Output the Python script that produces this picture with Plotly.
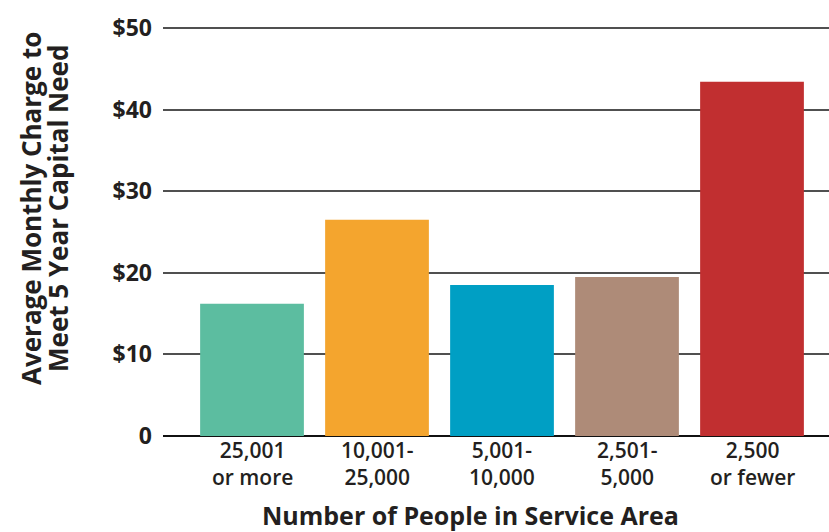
import plotly.graph_objects as go

label_line1 = ["25,001", "10,001-", "5,001-", "2,501-", "2,500"]
label_line2 = ["or more", "25,000", "10,000", "5,000", "or fewer"]
values = [16.2, 26.5, 18.5, 19.5, 43.4]
colors = ["#5CBDA0", "#F4A52E", "#009FC4", "#AE8B78", "#C12F30"]
y_tickvals = [0, 10, 20, 30, 40, 50]
y_ticktext = ["0", "$10", "$20", "$30", "$40", "$50"]
y_title = ["Average Monthly Charge to", "Meet 5 Year Capital Need"]
x_title = "Number of People in Service Area"

FONT = "Open Sans"
TXT = "#231F20"
xs = list(range(len(values)))

fig = go.Figure(go.Bar(
    x=xs, y=values,
    marker=dict(color=colors, line=dict(width=0)),
    width=0.83,
))

annotations = []
for i in xs:
    annotations.append(dict(text=label_line1[i] + "<br>" + label_line2[i], x=i, xref="x",
                            y=0, yref="paper", yshift=1, xanchor="center", yanchor="top",
                            showarrow=False, borderpad=0,
                            font=dict(size=21, family=FONT, weight=600, color=TXT)))
annotations.append(dict(text=x_title, x=(470.5 - 163) / 666, xref="paper", y=0, yref="paper",
                        yshift=-79, xanchor="center", yanchor="middle", showarrow=False,
                        font=dict(size=25, family=FONT, weight=700, color=TXT)))
for k, xc in enumerate([31, 58]):
    annotations.append(dict(text=y_title[k], xref="paper", yref="paper",
                            x=(xc - 163) / 666, y=(436 - 209) / 410,
                            xanchor="center", yanchor="middle", textangle=-90, showarrow=False,
                            font=dict(size=26, family=FONT, weight=700, color=TXT)))

fig.update_layout(
    width=829, height=532,
    margin=dict(l=163, r=0, t=26, b=96),
    plot_bgcolor="white", paper_bgcolor="white",
    showlegend=False,
    font=dict(family=FONT, color=TXT),
    xaxis=dict(
        range=[-0.712, 4.616],
        showticklabels=False,
        showgrid=False, zeroline=False, showline=False, ticks="",
    ),
    yaxis=dict(
        range=[0, 50.245],
        tickvals=y_tickvals, ticktext=y_ticktext,
        tickfont=dict(size=23, family=FONT, weight=700, color=TXT),
        showgrid=True, gridcolor="#505050", gridwidth=1.5,
        zeroline=True, zerolinecolor="#111111", zerolinewidth=2,
        showline=False, ticks="", ticklabelstandoff=10,
    ),
    annotations=annotations,
)

fig.write_html("out.html")
